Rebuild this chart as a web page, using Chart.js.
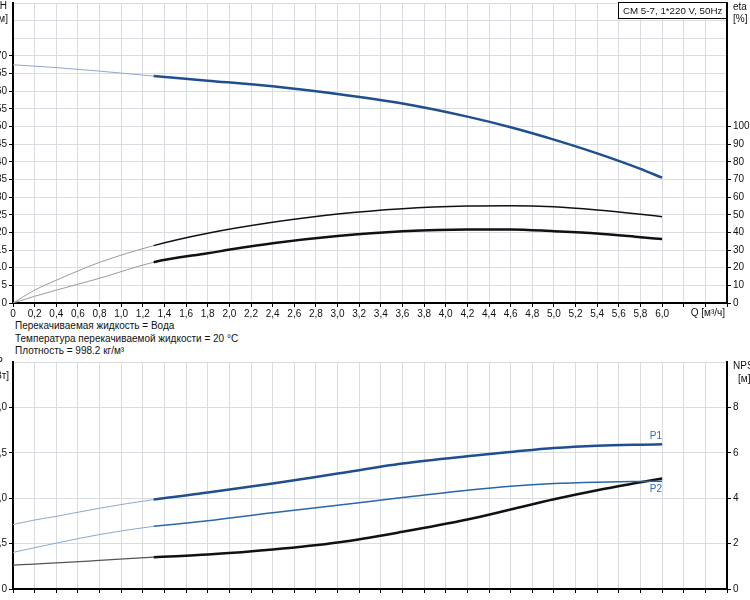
<!DOCTYPE html>
<html>
<head>
<meta charset="utf-8">
<script src="https://cdn.jsdelivr.net/npm/chart.js@4.4.1/dist/chart.umd.min.js"></script>
<style>
  body { margin: 0; background: #fff; width: 750px; height: 600px; overflow: hidden; position: relative;
         font-family: "Liberation Sans", Arial, sans-serif; }
  #topChart { position: absolute; left: 0; top: 0; }
  #bottomChart { position: absolute; left: 0; top: 350px; }
  .info { position: absolute; left: 15px; top: 320px; font-size: 10px; line-height: 12.5px; color: #111; }
</style>
</head>
<body>
<canvas id="topChart" width="750" height="320"></canvas>
<div class="info">
  Перекачиваемая жидкость = Вода<br>
  Температура перекачиваемой жидкости = 20 °C<br>
  Плотность = 998.2 кг/м³
</div>
<canvas id="bottomChart" width="750" height="250"></canvas>

<script>
// подача Q, м³/ч
const qValues = [0, 0.2, 0.4, 0.8, 1.3, 1.8, 2.4, 3.0, 3.6, 4.2, 4.6, 5.0, 5.4, 5.8, 6.0];
// напор H, м
const headH = [67.5, 67.1, 66.7, 65.7, 64.3, 63.0, 61.4, 59.2, 56.5, 52.8, 49.8, 46.3, 42.4, 38.0, 35.5];
// КПД, %
const etaUpper = [0, 7.3, 12.9, 23.0, 32.5, 39.5, 45.7, 50.4, 53.4, 54.9, 55.1, 54.5, 52.7, 50.3, 48.9];
const etaLower = [0, 3.8, 7.3, 14.0, 23.1, 28.2, 33.8, 37.9, 40.6, 41.7, 41.7, 40.7, 39.4, 37.3, 36.2];
// мощность, кВт
const powerP1 = [0.71, 0.76, 0.80, 0.89, 0.985, 1.062, 1.161, 1.271, 1.381, 1.462, 1.509, 1.553, 1.579, 1.590, 1.593];
const powerP2 = [0.403, 0.455, 0.505, 0.60, 0.69, 0.751, 0.839, 0.923, 1.007, 1.088, 1.132, 1.161, 1.176, 1.184, 1.187];
// NPSH, м
const npshValues = [1.05, 1.10, 1.15, 1.26, 1.40, 1.52, 1.74, 2.05, 2.52, 3.06, 3.5, 3.95, 4.35, 4.70, 4.87];

const qTickLabels = ['0','0,2','0,4','0,6','0,8','1,0','1,2','1,4','1,6','1,8','2,0','2,2','2,4','2,6','2,8',
  '3,0','3,2','3,4','3,6','3,8','4,0','4,2','4,4','4,6','4,8','5,0','5,2','5,4','5,6','5,8','6,0'];
const pTickLabels = ['0', '0,5', '1,0', '1,5', '2,0'];

const qStart = 1.3;   // начало рабочей зоны, до неё линия бледная
const gridColor = '#d9dde1';
const fontFamily = '"Liberation Sans", Arial, sans-serif';

Chart.defaults.font = { family: fontFamily, size: 10 };
Chart.defaults.color = '#111';

const toPoints = ys => qValues.map((q, i) => ({ x: q, y: ys[i] }));

const lineSet = (data, axis, color, width, faded, fadedWidth) => ({
  data: toPoints(data),
  yAxisID: axis,
  borderColor: color,
  borderWidth: width,
  pointRadius: 0,
  cubicInterpolationMode: 'monotone',
  segment: {
    borderColor: c => c.p1.parsed.x <= qStart + 1e-6 ? faded : undefined,
    borderWidth: c => c.p1.parsed.x <= qStart + 1e-6 ? fadedWidth : undefined
  }
});

const tickColorUpTo = lim => c => (c.tick && c.tick.value <= lim + 1e-6) ? '#000' : 'rgba(0,0,0,0)';

// фиксированные размеры осей, без лишних отступов под подписи
const fixSize = (w, h) => s => {
  if (w !== null) s.width = w;
  if (h !== null) s.height = h;
  s.paddingTop = s.paddingBottom = s.paddingLeft = s.paddingRight = 0;
};

const xScale = (labels, height) => ({
  type: 'linear', min: 0, max: 6.6,
  afterFit: fixSize(null, height),
  ticks: { stepSize: 0.2, autoSkip: false, maxRotation: 0, padding: 1,
           callback: (v, i) => labels[i] ?? '' },
  grid: { color: gridColor, tickColor: '#000', tickLength: 4 },
  border: { color: '#000', width: 2 }
});

// подписи осей и рамка с названием насоса
const topDecor = {
  id: 'topDecor',
  afterDraw(chart) {
    const ctx = chart.ctx;
    ctx.save();
    ctx.font = '10px ' + fontFamily;
    ctx.fillStyle = '#111';
    ctx.textBaseline = 'middle';
    ctx.textAlign = 'right';
    ctx.fillText('H', 7, 6);
    ctx.fillText('[м]', 8, 19);
    ctx.textAlign = 'left';
    ctx.fillText('eta', 733, 7);
    ctx.fillText('[%]', 733, 19);
    // подпись оси Q
    ctx.textAlign = 'right';
    ctx.fillText('Q [м³/ч]', 725, 313);
    // рамка с названием
    const title = 'CM 5-7, 1*220 V, 50Hz';
    let size = 11;
    ctx.font = size + 'px ' + fontFamily;
    while (ctx.measureText(title).width > 101 && size > 8) {
      size -= 0.25;
      ctx.font = size + 'px ' + fontFamily;
    }
    ctx.fillStyle = '#fff';
    ctx.fillRect(618, 2, 109, 16);
    ctx.strokeStyle = '#000';
    ctx.lineWidth = 1;
    ctx.strokeRect(618.5, 2.5, 108, 16);
    ctx.fillStyle = '#111';
    ctx.textAlign = 'left';
    ctx.fillText(title, 623, 11);
    ctx.restore();
  }
};

new Chart(document.getElementById('topChart'), {
  type: 'line',
  data: {
    datasets: [
      lineSet(headH, 'y', '#1f4f8f', 2.5, '#8fa7c6', 1),
      lineSet(etaUpper, 'y1', '#111', 1.5, '#9a9a9a', 1),
      lineSet(etaLower, 'y1', '#111', 2.5, '#9a9a9a', 1)
    ]
  },
  options: {
    responsive: false,
    animation: false,
    layout: { padding: { top: 3, left: 0, right: 0, bottom: 0 } },
    plugins: { legend: { display: false }, tooltip: { enabled: false } },
    scales: {
      x: xScale(qTickLabels, 17),
      y: {
        position: 'left', min: 0, max: 85,
        afterFit: fixSize(13, null),
        ticks: { stepSize: 5, padding: 2, callback: v => v <= 70 ? v : '' },
        grid: { color: gridColor, tickColor: tickColorUpTo(70), tickLength: 4 },
        border: { color: '#000', width: 2 }
      },
      y1: {
        position: 'right', min: 0, max: 170,
        afterFit: fixSize(23, null),
        ticks: { stepSize: 10, padding: 2, callback: v => v <= 100 ? v : '' },
        grid: { drawOnChartArea: false, tickColor: tickColorUpTo(100), tickLength: 4 },
        border: { color: '#000', width: 2 }
      }
    }
  },
  plugins: [topDecor]
});

const bottomDecor = {
  id: 'bottomDecor',
  afterDraw(chart) {
    const ctx = chart.ctx;
    ctx.save();
    ctx.font = '10px ' + fontFamily;
    ctx.fillStyle = '#111';
    ctx.textBaseline = 'middle';
    ctx.textAlign = 'right';
    ctx.fillText('P', 3, 12);
    ctx.fillText('[кВт]', 9, 26);
    ctx.textAlign = 'left';
    ctx.fillText('NPSH', 733, 16);
    ctx.fillText('[м]', 738, 29);
    // подписи P1 и P2 у концов кривых
    const end1 = chart.getDatasetMeta(0).data.at(-1);
    const end2 = chart.getDatasetMeta(1).data.at(-1);
    ctx.fillStyle = '#2d6fb0';
    ctx.textAlign = 'right';
    ctx.fillText('P1', end1.x, end1.y - 8);
    ctx.fillText('P2', end2.x, end2.y + 8);
    ctx.restore();
  }
};

new Chart(document.getElementById('bottomChart'), {
  type: 'line',
  data: {
    datasets: [
      lineSet(powerP1, 'y', '#1f4f8f', 2.5, '#8fa7c6', 1),
      lineSet(powerP2, 'y', '#2a67a6', 1.5, '#86a9cf', 1),
      lineSet(npshValues, 'y1', '#111', 2.5, '#555', 1.2)
    ]
  },
  options: {
    responsive: false,
    animation: false,
    layout: { padding: { top: 12, left: 0, right: 0, bottom: 0 } },
    plugins: { legend: { display: false }, tooltip: { enabled: false } },
    scales: {
      x: xScale([], 11),
      y: {
        position: 'left', min: 0, max: 2.5,
        afterFit: fixSize(13, null),
        ticks: { stepSize: 0.5, padding: 2, callback: (v, i) => pTickLabels[i] ?? '' },
        grid: { color: gridColor, tickColor: tickColorUpTo(2), tickLength: 4 },
        border: { color: '#000', width: 2 }
      },
      y1: {
        position: 'right', min: 0, max: 10,
        afterFit: fixSize(23, null),
        ticks: { stepSize: 2, padding: 2, callback: v => v <= 8 ? v : '' },
        grid: { drawOnChartArea: false, tickColor: tickColorUpTo(8), tickLength: 4 },
        border: { color: '#000', width: 2 }
      }
    }
  },
  plugins: [bottomDecor]
});
</script>
</body>
</html>
